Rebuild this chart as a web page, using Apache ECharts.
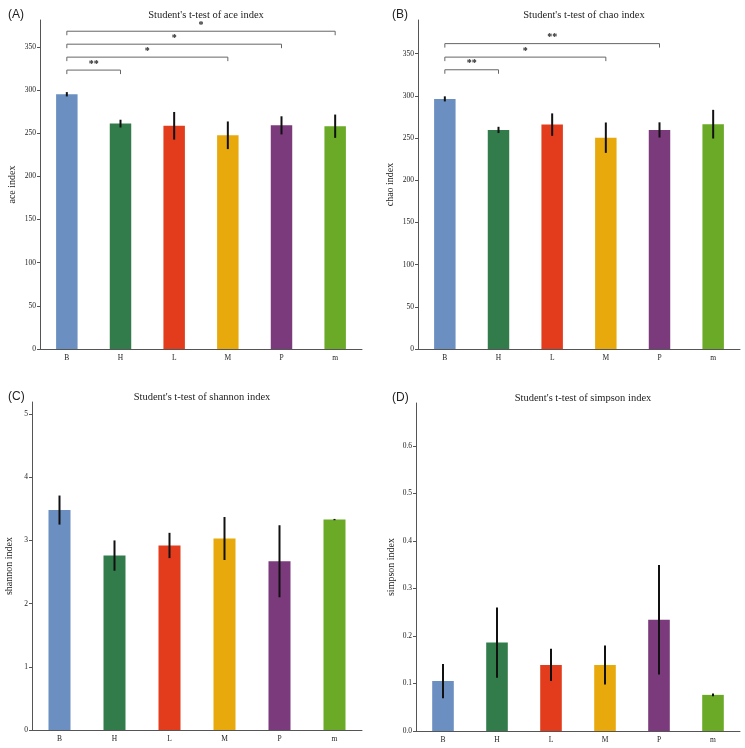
<!DOCTYPE html>
<html style="height: 100%">
<head>
<meta charset="utf-8">
<script src="https://cdn.jsdelivr.net/npm/echarts@6/dist/echarts.min.js"></script>
</head>
<body style="height: 100%; margin: 0; background: #fff">
<div id="container" style="width: 745px; height: 748px"></div>
<script type="text/javascript">
// groups on the x axis
var groups = ['B', 'H', 'L', 'M', 'P', 'm'];

// mean and error (half length of the error bar) for each index
var aceMean = [295, 261, 258.5, 247.5, 259, 258];
var aceErr = [2.5, 4.5, 16, 16, 10.5, 13.5];
var chaoMean = [296.5, 259.7, 266, 250.5, 259.7, 266.5];
var chaoErr = [3, 3.7, 13.3, 18, 9, 17];
var shannonMean = [3.48, 2.76, 2.92, 3.03, 2.67, 3.33];
var shannonErr = [0.23, 0.24, 0.2, 0.34, 0.57, 0.01];
var simpsonMean = [0.105, 0.186, 0.139, 0.139, 0.234, 0.076];
var simpsonErr = [0.036, 0.074, 0.034, 0.041, 0.115, 0.003];

// significance brackets: [from group, to group, height, stars]
var aceSig = [[0, 1, 323, '**'], [0, 3, 338, '*'], [0, 4, 353, '*'], [0, 5, 368, '*']];
var chaoSig = [[0, 1, 331, '**'], [0, 3, 346, '*'], [0, 4, 362, '**']];

// y tick labels
var aceTicks = [0, 50, 100, 150, 200, 250, 300, 350];
var chaoTicks = [0, 50, 100, 150, 200, 250, 300, 350];
var shannonTicks = [0, 1, 2, 3, 4, 5];
var simpsonTicks = [0, 0.1, 0.2, 0.3, 0.4, 0.5, 0.6];

var colors = ['#6a8fc0', '#317c4a', '#e23c1c', '#e8a90c', '#7a3a7b', '#6aaa26'];
var serif = 'Liberation Serif';

var panels = [
  {tag: '(A)', name: 'ace index', mean: aceMean, err: aceErr, sig: aceSig, ticks: aceTicks, max: 381,
   grid: {left: 40, top: 20, width: 322, height: 329}, nameGap: 23},
  {tag: '(B)', name: 'chao index', mean: chaoMean, err: chaoErr, sig: chaoSig, ticks: chaoTicks, max: 390,
   grid: {left: 418, top: 20, width: 322, height: 329}, nameGap: 23},
  {tag: '(C)', name: 'shannon index', mean: shannonMean, err: shannonErr, sig: [], ticks: shannonTicks, max: 5.19,
   grid: {left: 32, top: 402, width: 330, height: 328}, nameGap: 18},
  {tag: '(D)', name: 'simpson index', mean: simpsonMean, err: simpsonErr, sig: [], ticks: simpsonTicks, max: 0.69,
   grid: {left: 416, top: 403, width: 324, height: 328}, nameGap: 20, dec: 1}
];

var option = {
  backgroundColor: '#ffffff',
  animation: false,
  title: [],
  grid: [],
  xAxis: [],
  yAxis: [],
  series: []
};

panels.forEach(function (p, k) {
  var g = p.grid;
  option.grid.push({left: g.left, top: g.top, width: g.width, height: g.height});
  option.title.push({
    text: "Student's t-test of " + p.name,
    left: g.left + g.width / 2, top: g.top - 15, textAlign: 'center',
    textStyle: {fontFamily: serif, fontSize: 10.5, fontWeight: 'normal', color: '#222'}
  });
  option.title.push({
    text: p.tag,
    left: g.left < 200 ? 3 : 387, top: g.top - 16,
    textStyle: {fontFamily: 'Liberation Sans', fontSize: 12, fontWeight: 'normal', color: '#222'}
  });
  option.xAxis.push({
    type: 'category', gridIndex: k, data: groups,
    axisLine: {lineStyle: {color: '#555', width: 1}},
    axisTick: {alignWithLabel: true, length: 3, lineStyle: {color: '#555'}},
    axisLabel: {fontFamily: serif, fontSize: 7.5, color: '#222', margin: 5},
    splitLine: {show: false}
  });
  option.yAxis.push({
    type: 'value', gridIndex: k, min: 0, max: p.max,
    name: p.name, nameLocation: 'middle', nameGap: p.nameGap,
    nameTextStyle: {fontFamily: serif, fontSize: 10, color: '#222'},
    axisLine: {show: true, lineStyle: {color: '#555', width: 1}},
    axisTick: {show: true, length: 3, customValues: p.ticks, lineStyle: {color: '#555'}},
    axisLabel: {
      fontFamily: serif, fontSize: 7.5, color: '#222', margin: 4, customValues: p.ticks,
      formatter: function (v) { return p.dec ? v.toFixed(p.dec) : String(v); }
    },
    splitLine: {show: false}
  });
  option.series.push({
    type: 'bar', xAxisIndex: k, yAxisIndex: k, barWidth: '40%',
    data: p.mean.map(function (v, i) {
      return {value: v, itemStyle: {color: colors[i]}};
    })
  });
  option.series.push({
    type: 'custom', xAxisIndex: k, yAxisIndex: k, z: 5,
    data: p.mean.map(function (v, i) { return [i, v - p.err[i], v + p.err[i]]; }),
    renderItem: function (params, api) {
      var lo = api.coord([api.value(0), api.value(1)]);
      var hi = api.coord([api.value(0), api.value(2)]);
      return {
        type: 'line',
        shape: {x1: lo[0], y1: lo[1], x2: hi[0], y2: hi[1]},
        style: {stroke: '#111', lineWidth: 2}
      };
    }
  });
  if (p.sig.length) {
    option.series.push({
      type: 'custom', xAxisIndex: k, yAxisIndex: k, z: 6,
      data: p.sig,
      renderItem: function (params, api) {
        var a = api.coord([api.value(0), api.value(2)]);
        var b = api.coord([api.value(1), api.value(2)]);
        var drop = 4;
        return {
          type: 'group',
          children: [{
            type: 'polyline',
            shape: {points: [[a[0], a[1] + drop], [a[0], a[1]], [b[0], b[1]], [b[0], b[1] + drop]]},
            style: {stroke: '#666', lineWidth: 1, fill: null}
          }, {
            type: 'text',
            style: {
              text: p.sig[params.dataIndex][3],
              x: (a[0] + b[0]) / 2, y: a[1] - 1,
              align: 'center', verticalAlign: 'bottom',
              font: 'bold 10px "Liberation Serif"', fill: '#222'
            }
          }]
        };
      }
    });
  }
});

var myChart = echarts.init(document.getElementById('container'));
myChart.setOption(option, true);
</script>
</body>
</html>
